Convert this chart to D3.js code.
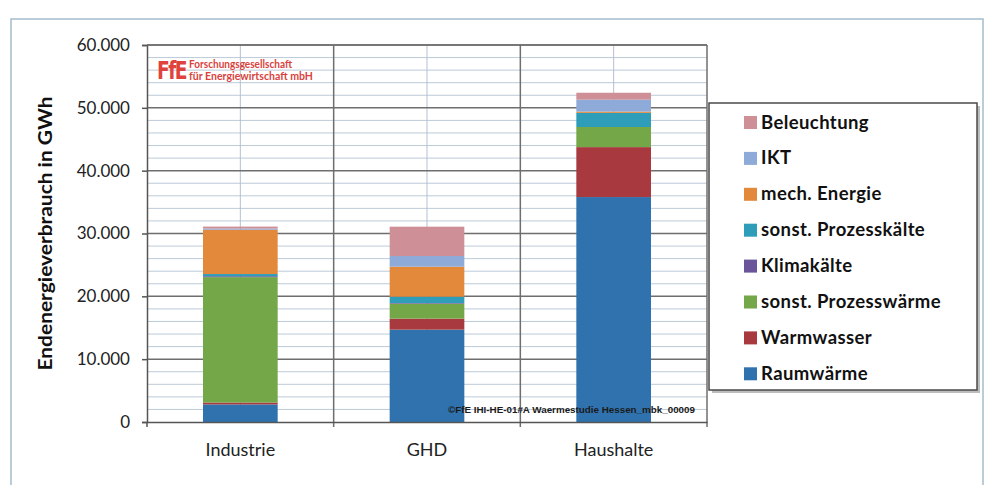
<!DOCTYPE html>
<html>
<head>
<meta charset="utf-8">
<script src="https://cdn.jsdelivr.net/npm/d3@7"></script>
<style>
  body { margin: 0; background: #fff; }
  svg { display: block; }
</style>
</head>
<body>
<svg id="chart" width="996" height="485"></svg>
<script>
// Endenergieverbrauch nach Sektor und Anwendung (GWh)
const categories = ["Industrie", "GHD", "Haushalte"];
const seriesNames = ["Raumwärme", "Warmwasser", "sonst. Prozesswärme", "Klimakälte",
                     "sonst. Prozesskälte", "mech. Energie", "IKT", "Beleuchtung"];
const raumwaerme    = [2800, 14700, 35800];
const warmwasser    = [300, 1750, 7950];
const prozesswaerme = [19950, 2390, 3200];
const klimakaelte   = [150, 100, 0];
const prozesskaelte = [350, 1000, 2250];
const mechEnergie   = [7050, 4775, 200];
const ikt           = [200, 1700, 1900];
const beleuchtung   = [300, 4670, 1100];
const yTicks = [0, 10000, 20000, 30000, 40000, 50000, 60000];
const seriesColors = ["#2f72ae", "#a83a3f", "#73a747", "#6a559a",
                      "#2d9dba", "#e2893c", "#8eaad8", "#cf8f96"];

const seriesValues = [raumwaerme, warmwasser, prozesswaerme, klimakaelte,
                      prozesskaelte, mechEnergie, ikt, beleuchtung];

const rows = categories.map((c, i) => {
  const r = { cat: c };
  seriesNames.forEach((s, k) => { r[s] = seriesValues[k][i]; });
  return r;
});
const stacked = d3.stack().keys(seriesNames)(rows);

const de = d3.formatLocale({ decimal: ",", thousands: ".", grouping: [3], currency: ["", " €"] });
const fmt = de.format(",.0f");

const svg = d3.select("#chart");
const font = "Lato, 'Open Sans', sans-serif";

// outer frame
svg.append("rect").attr("x", 11).attr("y", 19).attr("width", 972).attr("height", 480)
  .attr("fill", "#fff").attr("stroke", "#a5bccd").attr("stroke-width", 1.5);

const plot = { left: 147, right: 707, top: 45, bottom: 422 };

const x = d3.scaleBand().domain(categories).range([plot.left, plot.right]).padding(0);
const y = d3.scaleLinear().domain([0, 60000]).range([plot.bottom, plot.top]);

const grid = svg.append("g");
// minor horizontal gridlines
const minor = d3.range(0, 60001, 2000).filter(v => v % 10000 !== 0);
grid.selectAll("line.minor").data(minor).join("line")
  .attr("x1", plot.left).attr("x2", plot.right)
  .attr("y1", d => y(d)).attr("y2", d => y(d))
  .attr("stroke", "#bccad8").attr("stroke-width", 1);
// vertical lines at category centres
grid.selectAll("line.vc").data(categories).join("line")
  .attr("x1", d => x(d) + x.bandwidth() / 2).attr("x2", d => x(d) + x.bandwidth() / 2)
  .attr("y1", plot.top).attr("y2", plot.bottom)
  .attr("stroke", "#b3c1cf").attr("stroke-width", 1);
// major horizontal gridlines
grid.selectAll("line.major").data(yTicks.filter(v => v > 0)).join("line")
  .attr("x1", plot.left).attr("x2", plot.right)
  .attr("y1", d => y(d)).attr("y2", d => y(d))
  .attr("stroke", "#6e6e6e").attr("stroke-width", 1.5);
// category separators
const seps = categories.map(c => x(c)).concat([plot.right]).slice(1);
grid.selectAll("line.sep").data(seps).join("line")
  .attr("x1", d => d).attr("x2", d => d)
  .attr("y1", plot.top).attr("y2", plot.bottom + 5)
  .attr("stroke", "#6e6e6e").attr("stroke-width", 1.5);

// stacked bars
const barW = x.bandwidth() * 0.4;
svg.append("g").selectAll("g").data(stacked).join("g")
  .attr("fill", (d, i) => seriesColors[i])
  .selectAll("rect").data(d => d).join("rect")
  .attr("x", d => x(d.data.cat) + (x.bandwidth() - barW) / 2)
  .attr("width", barW)
  .attr("y", d => y(d[1]))
  .attr("height", d => Math.max(0, y(d[0]) - y(d[1])));

// y axis
const yAxis = svg.append("g").attr("transform", `translate(${plot.left},0)`)
  .call(d3.axisLeft(y).tickValues(yTicks).tickFormat(fmt).tickSize(5).tickPadding(12));
yAxis.select(".domain").attr("stroke", "#555").attr("stroke-width", 1.5);
yAxis.selectAll(".tick line").attr("stroke", "#555").attr("stroke-width", 1.5);
yAxis.selectAll(".tick text").attr("font-family", font).attr("font-size", 17).attr("fill", "#222");

// x axis
const xAxis = svg.append("g").attr("transform", `translate(0,${plot.bottom})`)
  .call(d3.axisBottom(x).tickSize(0).tickPadding(21));
xAxis.select(".domain").attr("stroke", "#555").attr("stroke-width", 1.5);
xAxis.selectAll(".tick text").attr("font-family", font).attr("font-size", 18).attr("fill", "#222");
svg.append("line").attr("x1", plot.left).attr("x2", plot.left)
  .attr("y1", plot.bottom).attr("y2", plot.bottom + 5).attr("stroke", "#555").attr("stroke-width", 1.5);

// top border of plot
svg.append("line").attr("x1", plot.left).attr("x2", plot.right)
  .attr("y1", plot.top).attr("y2", plot.top).attr("stroke", "#6e6e6e").attr("stroke-width", 1.5);

// y axis title
svg.append("text")
  .attr("transform", `translate(52,${(plot.top + plot.bottom) / 2 + 0}) rotate(-90)`)
  .attr("text-anchor", "middle").attr("font-family", font).attr("font-weight", "bold")
  .attr("font-size", 18.5).attr("fill", "#111")
  .attr("textLength", 274).attr("lengthAdjust", "spacingAndGlyphs")
  .text("Endenergieverbrauch in GWh");

// FfE logo
const logo = svg.append("g").attr("transform", "translate(157,79)");
logo.append("text").attr("x", 0).attr("y", 0)
  .attr("font-family", "'DejaVu Sans', sans-serif").attr("font-weight", "bold")
  .attr("font-size", 24).attr("letter-spacing", -2).attr("fill", "#e0423d")
  .attr("textLength", 29).attr("lengthAdjust", "spacingAndGlyphs")
  .text("FfE");
logo.append("text").attr("x", 32).attr("y", -11)
  .attr("font-family", font).attr("font-weight", "bold").attr("font-size", 10.5).attr("fill", "#d9423d")
  .attr("textLength", 103).attr("lengthAdjust", "spacingAndGlyphs")
  .text("Forschungsgesellschaft");
logo.append("text").attr("x", 32).attr("y", 1)
  .attr("font-family", font).attr("font-weight", "bold").attr("font-size", 10.5).attr("fill", "#d9423d")
  .attr("textLength", 124).attr("lengthAdjust", "spacingAndGlyphs")
  .text("für Energiewirtschaft mbH");

// source tag
svg.append("text").attr("x", 448).attr("y", 413)
  .attr("font-family", "'Liberation Sans', sans-serif").attr("font-weight", "bold")
  .attr("font-size", 9.5).attr("fill", "#1a1a1a")
  .attr("textLength", 247).attr("lengthAdjust", "spacingAndGlyphs")
  .text("©FfE IHI-HE-01#A Waermestudie Hessen_mbk_00009");

// legend
const lg = svg.append("g").attr("transform", "translate(709,103)");
lg.append("rect").attr("x", 3).attr("y", 3).attr("width", 268).attr("height", 287)
  .attr("fill", "#bdbdbd");
lg.append("rect").attr("x", 0).attr("y", 0).attr("width", 268).attr("height", 287)
  .attr("fill", "#fff").attr("stroke", "#4a4a4a").attr("stroke-width", 1.5);
const legendOrder = seriesNames.map((s, i) => ({ name: s, color: seriesColors[i] })).reverse();
const item = lg.selectAll("g.item").data(legendOrder).join("g")
  .attr("transform", (d, i) => `translate(35,${19 + i * 35.9})`);
item.append("rect").attr("x", 0).attr("y", -6).attr("width", 13).attr("height", 13)
  .attr("fill", d => d.color);
item.append("text").attr("x", 17).attr("y", 6.5)
  .attr("font-family", font).attr("font-weight", "bold").attr("font-size", 18.5)
  .attr("letter-spacing", 0.4)
  .attr("fill", "#111").text(d => d.name);
</script>
</body>
</html>
